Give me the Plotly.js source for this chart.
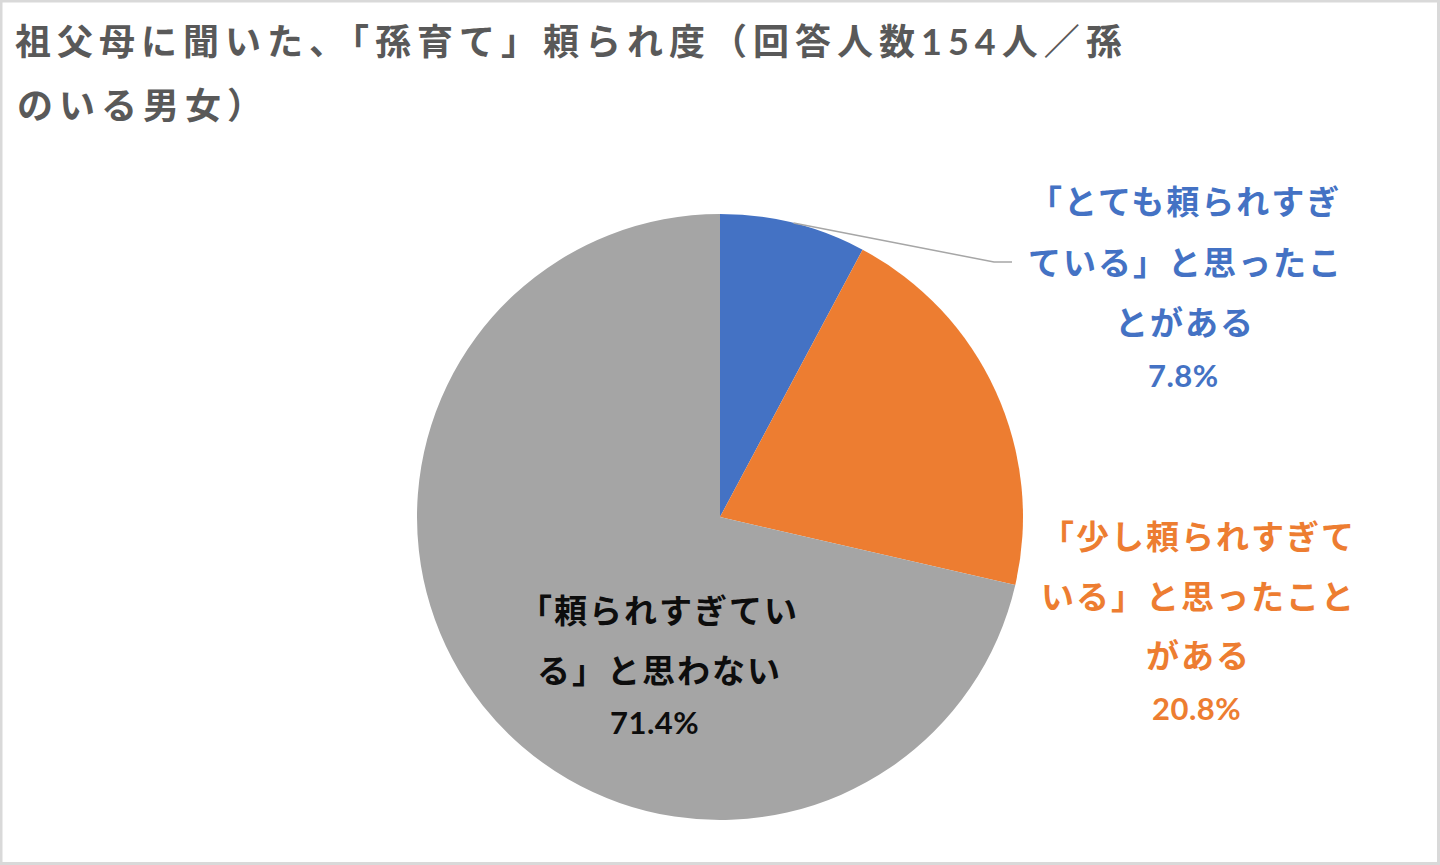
<!DOCTYPE html>
<html>
<head>
<meta charset="utf-8">
<script src="https://cdn.plot.ly/plotly-3.0.1.min.js"></script>
<style>
  html, body { margin: 0; padding: 0; background: #ffffff; }
  #chart { width: 1440px; height: 865px; }
</style>
</head>
<body>
<div id="chart"></div>
<script>
// ---- data ----
const titleLine1 = '祖父母に聞いた、「孫育て」頼られ度（回答人数154人／孫';
const titleLine2 = 'のいる男女）';
const categories = [
  '「とても頼られすぎている」と思ったことがある',
  '「少し頼られすぎている」と思ったことがある',
  '「頼られすぎている」と思わない'
];
const values = [7.8, 20.8, 71.4];
const labelLines = [
  ['「とても頼られすぎ', 'ている」と思ったこ', 'とがある'],
  ['「少し頼られすぎて', 'いる」と思ったこと', 'がある'],
  ['「頼られすぎてい', 'る」と思わない']
];
const sliceColors = ['#4472C4', '#ED7D31', '#A5A5A5'];
const labelColors = ['#4472C4', '#ED7D31', '#0D0D0D'];

// ---- layout geometry (pixels) ----
const W = 1440, H = 865;
const cx = 720, cy = 517, R = 303;
const px = x => x / W;
const py = y => 1 - y / H;

// label blocks: center x, line y positions, percent x/y
const labelPos = [
  {x: 1185, ys: [201, 262, 322], px: 1183, py: 375},
  {x: 1198, ys: [536, 596, 655], px: 1196, py: 708},
  {x: 659,  ys: [610, 670],      px: 654,  py: 722}
];

const jpFont = "Lato, 'Noto Sans CJK JP', sans-serif";
const sp = (t, s) => `<span style="letter-spacing:${s}px">${t}</span>`;

const annotations = [];
labelLines.forEach((lines, i) => {
  const p = labelPos[i];
  lines.forEach((ln, j) => {
    annotations.push({
      xref: 'paper', yref: 'paper', x: px(p.x), y: py(p.ys[j]),
      xanchor: 'center', yanchor: 'middle', showarrow: false,
      text: sp(ln, 2),
      font: {family: jpFont, size: 33, color: labelColors[i], weight: 'bold'}
    });
  });
  annotations.push({
    xref: 'paper', yref: 'paper', x: px(p.px), y: py(p.py),
    xanchor: 'center', yanchor: 'middle', showarrow: false,
    text: sp(values[i].toFixed(1) + '%', 0.5),
    font: {family: jpFont, size: 31, color: labelColors[i], weight: 'bold'}
  });
});
// second title line
annotations.push({
  xref: 'paper', yref: 'paper', x: px(15), y: py(105),
  xanchor: 'left', yanchor: 'middle', showarrow: false,
  text: sp(titleLine2, 6),
  font: {family: jpFont, size: 36, color: '#595959', weight: 'bold'}
});

// leader line for first slice: from arc midpoint of slice to label
const total = values.reduce((a, b) => a + b, 0);
const midAng = (values[0] / total) * Math.PI; // half of slice angle, clockwise from top
const ax0 = cx + R * Math.sin(midAng), ay0 = cy - R * Math.cos(midAng);
const leaderPath = `M ${px(ax0)} ${py(ay0)} L ${px(994)} ${py(262)} L ${px(1012)} ${py(262)}`;

const shapes = [
  {type: 'path', xref: 'paper', yref: 'paper', path: leaderPath,
   line: {color: '#A6A6A6', width: 1.5}},
  {type: 'rect', xref: 'paper', yref: 'paper',
   x0: px(1), y0: py(H - 1.5), x1: px(W - 1.5), y1: py(1),
   line: {color: '#D9D9D9', width: 3}, fillcolor: 'rgba(0,0,0,0)'}
];

const trace = {
  type: 'pie',
  labels: categories,
  values: values,
  sort: false,
  direction: 'clockwise',
  rotation: 0,
  textinfo: 'none',
  hoverinfo: 'label+percent',
  marker: {colors: sliceColors, line: {width: 0}},
  domain: {x: [px(cx - R), px(cx + R)], y: [(H - (cy + R)) / H, (H - (cy - R)) / H]},
  showlegend: false
};

const layout = {
  width: W, height: H,
  margin: {l: 0, r: 0, t: 0, b: 0},
  paper_bgcolor: '#ffffff',
  title: {
    text: sp(titleLine1, 6),
    x: px(15), xanchor: 'left', xref: 'paper',
    y: py(42), yanchor: 'middle', yref: 'paper',
    font: {family: jpFont, size: 36, color: '#595959', weight: 'bold'}
  },
  annotations: annotations,
  shapes: shapes,
  showlegend: false
};

Plotly.newPlot('chart', [trace], layout, {displayModeBar: false, staticPlot: true});
</script>
</body>
</html>
